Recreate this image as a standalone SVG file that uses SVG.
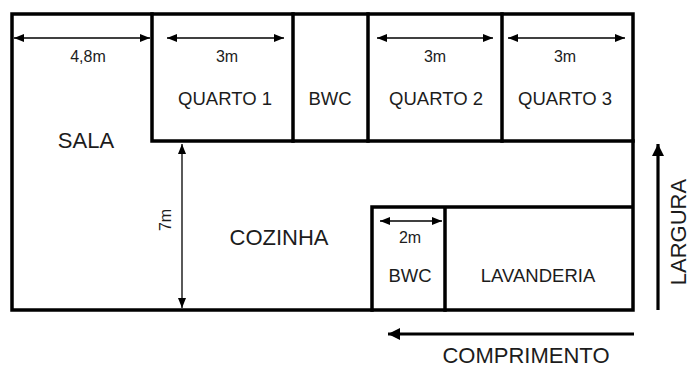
<svg xmlns="http://www.w3.org/2000/svg" width="692" height="367" viewBox="0 0 692 367">
<defs>
<style>
.wall{fill:none;stroke:#000;stroke-width:3.5;stroke-linecap:square}
.dim{fill:none;stroke:#000;stroke-width:1.3}
.big{fill:none;stroke:#000;stroke-width:3.2}
text{font-family:"Liberation Sans",Arial,sans-serif;fill:#1c1c1c;text-anchor:middle}
.room{font-size:18.5px}
.large{font-size:22px}
.meas{font-size:16px}
</style>
<marker id="ah" viewBox="0 0 10 8" refX="10" refY="4" markerWidth="10" markerHeight="8" markerUnits="userSpaceOnUse" orient="auto-start-reverse">
<path d="M0,0 L10,4 L0,8 Z" fill="#000"/>
</marker>
<marker id="ahb" viewBox="0 0 12 12" refX="12" refY="6" markerWidth="12" markerHeight="12" markerUnits="userSpaceOnUse" orient="auto">
<path d="M0,0 L12,6 L0,12 Z" fill="#000"/>
</marker>
</defs>
<g id="walls">
<rect class="wall" x="12" y="14" width="621" height="296"/>
<path class="wall" d="M152 14 V141 H633"/>
<path class="wall" d="M293 14 V141 M368 14 V141 M502 14 V141"/>
<path class="wall" d="M372 310 V207 H631 M445 207 V310"/>
</g>
<g id="sala"><text class="large" x="86" y="148">SALA</text></g>
<g id="quarto1"><text class="room" x="225" y="105">QUARTO 1</text></g>
<g id="bwc1"><text class="room" x="330" y="105">BWC</text></g>
<g id="quarto2"><text class="room" x="436" y="105">QUARTO 2</text></g>
<g id="quarto3"><text class="room" x="565" y="105">QUARTO 3</text></g>
<g id="cozinha"><text class="large" x="279" y="245">COZINHA</text></g>
<g id="bwc2"><text class="room" x="410" y="282">BWC</text></g>
<g id="lavanderia"><text class="room" x="538" y="282">LAVANDERIA</text></g>
<g id="connectors">
<line class="dim" x1="14" y1="38" x2="150" y2="38" marker-start="url(#ah)" marker-end="url(#ah)"/>
<line class="dim" x1="167" y1="38" x2="284" y2="38" marker-start="url(#ah)" marker-end="url(#ah)"/>
<line class="dim" x1="377" y1="38" x2="493" y2="38" marker-start="url(#ah)" marker-end="url(#ah)"/>
<line class="dim" x1="508" y1="38" x2="625" y2="38" marker-start="url(#ah)" marker-end="url(#ah)"/>
<line class="dim" x1="182" y1="144" x2="182" y2="308" marker-start="url(#ah)" marker-end="url(#ah)"/>
<line class="dim" x1="380" y1="221" x2="442" y2="221" marker-start="url(#ah)" marker-end="url(#ah)"/>
<line class="big" x1="658" y1="310" x2="658" y2="144" marker-end="url(#ahb)"/>
<line class="big" x1="634" y1="334" x2="388" y2="334" marker-end="url(#ahb)"/>
</g>
<g id="labels">
<text class="meas" x="88" y="62">4,8m</text>
<text class="meas" x="227" y="62">3m</text>
<text class="meas" x="435" y="62">3m</text>
<text class="meas" x="565" y="62">3m</text>
<text class="meas" x="410" y="243">2m</text>
<text class="meas" transform="translate(171 220) rotate(-90)">7m</text>
<text class="large" transform="translate(686 232) rotate(-90)">LARGURA</text>
<text class="large" x="526" y="363">COMPRIMENTO</text>
</g>
</svg>
